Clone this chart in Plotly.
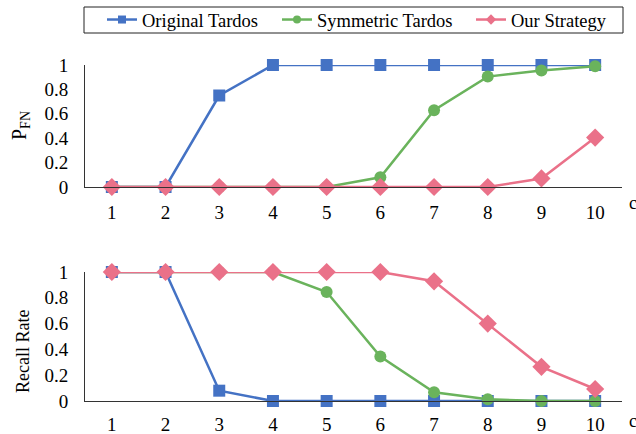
import plotly.graph_objects as go
from plotly.subplots import make_subplots

c_values = [1, 2, 3, 4, 5, 6, 7, 8, 9, 10]

pfn_original = [0, 0, 0.75, 1, 1, 1, 1, 1, 1, 1]
pfn_symmetric = [0, 0, 0, 0, 0, 0.08, 0.63, 0.905, 0.955, 0.99]
pfn_ours = [0, 0, 0, 0, 0, 0, 0, 0, 0.07, 0.405]

recall_original = [1, 1, 0.08, 0, 0, 0, 0, 0, 0, 0]
recall_symmetric = [1, 1, 1, 1, 0.845, 0.345, 0.067, 0.013, 0, 0]
recall_ours = [1, 1, 1, 1, 1, 1, 0.928, 0.6, 0.265, 0.093]

y_ticks = [0, 0.2, 0.4, 0.6, 0.8, 1]
y_ticktext = ["0", "0.2", "0.4", "0.6", "0.8", "1"]

names = ["Original Tardos", "Symmetric Tardos", "Our Strategy"]
colors = ["#4472C4", "#6AB35C", "#EA7189"]
symbols = ["square", "circle", "diamond"]
sizes = [12, 12, 14]

FONT = "Liberation Serif"

fig = make_subplots(rows=2, cols=1, vertical_spacing=0)

top_series = [pfn_original, pfn_symmetric, pfn_ours]
bot_series = [recall_original, recall_symmetric, recall_ours]

for i in range(3):
    fig.add_trace(go.Scatter(
        x=c_values, y=top_series[i], mode="lines+markers", name=names[i],
        line=dict(color=colors[i], width=2.5),
        marker=dict(symbol=symbols[i], size=sizes[i], color=colors[i]),
        showlegend=False, cliponaxis=False), row=1, col=1)
for i in range(3):
    fig.add_trace(go.Scatter(
        x=c_values, y=bot_series[i], mode="lines+markers", name=names[i],
        line=dict(color=colors[i], width=2.5),
        marker=dict(symbol=symbols[i], size=sizes[i], color=colors[i]),
        showlegend=False, cliponaxis=False), row=2, col=1)

H_TOP, H_BOT = 65, 401
L, R = 85, 622
span = H_BOT - H_TOP

def py(pix):
    return (H_BOT - pix) / span

def px(pix):
    return (pix - L) / (R - L)

# legend entries (smaller markers, as in the reference legend), each in its own legend
legend_keys = ["legend", "legend2", "legend3"]
legend_text_x = [143, 318, 512]
for i in range(3):
    fig.add_trace(go.Scatter(
        x=[None], y=[None], mode="lines+markers", name=names[i],
        line=dict(color=colors[i], width=2.5),
        marker=dict(symbol=symbols[i], size=8, color=colors[i]),
        showlegend=True, legend=legend_keys[i]), row=1, col=1)

legend_layout = {}
for i in range(3):
    legend_layout[legend_keys[i]] = dict(
        orientation="h", x=px(legend_text_x[i] - 41), xanchor="left",
        y=py(20), yanchor="middle",
        font=dict(family=FONT, size=18.5, color="#000000"),
        bgcolor="rgba(0,0,0,0)", borderwidth=0)

axis_common = dict(showgrid=False, zeroline=False, showline=True,
                   linecolor="#333333", linewidth=1, ticks="",
                   automargin=False,
                   tickfont=dict(family=FONT, size=19, color="#000000"))

fig.update_xaxes(range=[0.5, 10.5], tickvals=c_values, **axis_common)
fig.update_yaxes(range=[0, 1], tickvals=y_ticks, ticktext=y_ticktext,
                 ticklabelstandoff=12, **axis_common)
fig.update_xaxes(ticklabelstandoff=8, row=1, col=1)
fig.update_xaxes(ticklabelstandoff=6, row=2, col=1)

fig.update_yaxes(domain=[py(187), 1], row=1, col=1)
fig.update_yaxes(domain=[0, py(272)], row=2, col=1)

fig.update_layout(
    width=636, height=434,
    margin=dict(l=L, r=636 - R, t=H_TOP, b=434 - H_BOT, autoexpand=False),
    paper_bgcolor="white", plot_bgcolor="white",
    font=dict(family=FONT, size=18, color="#000000"),
    shapes=[dict(type="rect", xref="paper", yref="paper",
                 x0=px(84), x1=px(623), y0=py(33), y1=py(7),
                 line=dict(color="#222222", width=1))],
    annotations=[
        dict(text="P<sub>FN</sub>", xref="paper", yref="paper",
             x=px(20), y=py(126), xanchor="center", yanchor="middle",
             textangle=-90, showarrow=False,
             font=dict(family=FONT, size=20, color="#000000")),
        dict(text="Recall Rate", xref="paper", yref="paper",
             x=px(23), y=py(352), xanchor="center", yanchor="middle",
             textangle=-90, showarrow=False,
             font=dict(family=FONT, size=18, color="#000000")),
        dict(text="c", xref="paper", yref="paper",
             x=px(627), y=py(203), xanchor="left", yanchor="middle",
             showarrow=False,
             font=dict(family=FONT, size=18, color="#000000")),
        dict(text="c", xref="paper", yref="paper",
             x=px(627), y=py(421), xanchor="left", yanchor="middle",
             showarrow=False,
             font=dict(family=FONT, size=18, color="#000000")),
    ],
    **legend_layout,
)

fig.write_html("out.html", config={"displayModeBar": False},
               post_script="document.body.style.margin='0';document.body.style.padding='0';")
